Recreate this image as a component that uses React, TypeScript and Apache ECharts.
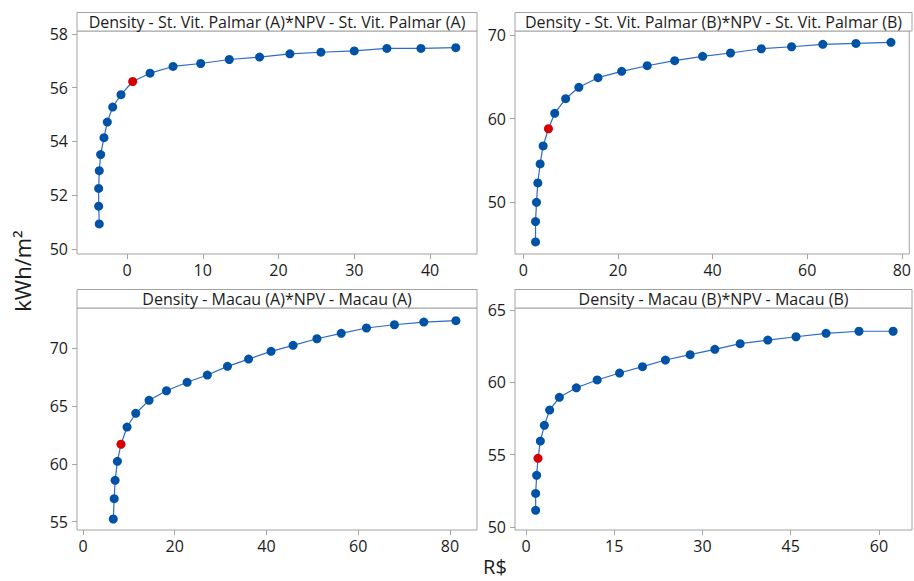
import React, { useEffect, useRef } from "react";
import * as echarts from "echarts";

// ---- Data ----
const panelTitles = [
  "Density - St. Vit. Palmar (A)*NPV - St. Vit. Palmar (A)",
  "Density - St. Vit. Palmar (B)*NPV - St. Vit. Palmar (B)",
  "Density - Macau (A)*NPV - Macau (A)",
  "Density - Macau (B)*NPV - Macau (B)",
];

const palmarA_npv = [-3.66, -3.74, -3.74, -3.66, -3.48, -3.04, -2.6, -1.89, -0.79, 0.75, 3.04, 6.08, 9.73, 13.5, 17.5, 21.5, 25.6, 30.0, 34.3, 38.8, 43.4];
const palmarA_density = [50.93, 51.59, 52.25, 52.91, 53.51, 54.14, 54.72, 55.28, 55.74, 56.23, 56.54, 56.79, 56.9, 57.05, 57.14, 57.26, 57.32, 57.37, 57.46, 57.46, 57.49];

const palmarB_npv = [2.6, 2.6, 2.8, 3.08, 3.57, 4.2, 5.33, 6.65, 8.96, 11.75, 15.8, 20.8, 26.2, 32.0, 37.9, 43.8, 50.3, 56.7, 63.3, 70.3, 77.7];
const palmarB_density = [45.27, 47.7, 50.0, 52.32, 54.59, 56.74, 58.8, 60.64, 62.39, 63.75, 64.9, 65.66, 66.33, 66.93, 67.45, 67.85, 68.36, 68.6, 68.89, 69.0, 69.13];

const macauA_npv = [6.6, 6.8, 7.0, 7.5, 8.28, 9.6, 11.5, 14.4, 18.2, 22.7, 27.1, 31.5, 36.1, 41.0, 45.8, 51.0, 56.3, 61.8, 67.9, 74.3, 81.3];
const macauA_density = [55.23, 56.99, 58.58, 60.22, 61.7, 63.19, 64.38, 65.5, 66.33, 67.06, 67.69, 68.44, 69.07, 69.74, 70.26, 70.83, 71.3, 71.76, 72.04, 72.27, 72.39];

const macauB_npv = [1.64, 1.64, 1.81, 2.04, 2.44, 3.12, 4.02, 5.67, 8.56, 12.1, 15.9, 19.8, 23.7, 27.9, 32.1, 36.4, 41.1, 45.9, 51.0, 56.6, 62.4];
const macauB_density = [51.14, 52.31, 53.56, 54.74, 55.93, 57.02, 58.08, 58.96, 59.62, 60.16, 60.64, 61.08, 61.54, 61.91, 62.28, 62.67, 62.92, 63.15, 63.39, 63.53, 63.53];

const highlightIndex = [9, 6, 4, 3];

const xTickLabels = [
  [0, 10, 20, 30, 40],
  [0, 20, 40, 60, 80],
  [0, 20, 40, 60, 80],
  [0, 15, 30, 45, 60],
];
const yTickLabels = [
  [50, 52, 54, 56, 58],
  [50, 60, 70],
  [55, 60, 65, 70],
  [50, 55, 60, 65],
];
const xRanges = [
  [-6.6, 46.2],
  [-1.74, 81.57],
  [-1.31, 85.9],
  [-1.87, 65.61],
];
const yRanges = [
  [49.81, 58.11],
  [43.83, 70.48],
  [54.28, 73.49],
  [49.78, 65.14],
];

const xSeries = [palmarA_npv, palmarB_npv, macauA_npv, macauB_npv];
const ySeries = [palmarA_density, palmarB_density, macauA_density, macauB_density];

// ---- Layout / style ----
const FONT = "'Open Sans', 'Noto Sans', sans-serif";
const TEXT = "#1c1c1c";
const FRAME = "#a3a3a3";
const LINE = "#2c6acb";
const DOT = "#0052a6";
const RED = "#d60000";

const gridLeft = [77, 515, 77, 515];
const gridTop = [31, 31, 308, 308];
const gridW = [400, 397, 400, 397];
const gridH = [223, 223, 222, 222];
const stripH = 18.5;

export default function App() {
  const ref = useRef<HTMLDivElement>(null);

  useEffect(() => {
    document.body.style.margin = "0";
    if (!ref.current) return;
    const chart = echarts.init(ref.current, undefined, { renderer: "svg" });

    const grids = gridLeft.map((l, i) => ({
      left: l,
      top: gridTop[i],
      width: gridW[i],
      height: gridH[i],
      show: true,
      borderColor: FRAME,
      borderWidth: 1,
      backgroundColor: "#fff",
    }));

    const xAxes = xRanges.map((r, i) => ({
      type: "value",
      gridIndex: i,
      min: r[0],
      max: r[1],
      axisLine: { show: false, onZero: false },
      splitLine: { show: false },
      axisTick: {
        show: true,
        length: 5,
        lineStyle: { color: FRAME },
        customValues: xTickLabels[i],
      },
      axisLabel: {
        color: TEXT,
        fontSize: 16,
        fontFamily: FONT,
        margin: 8,
        customValues: xTickLabels[i],
      },
    }));

    const yAxes = yRanges.map((r, i) => ({
      type: "value",
      gridIndex: i,
      min: r[0],
      max: r[1],
      axisLine: { show: false, onZero: false },
      splitLine: { show: false },
      axisTick: {
        show: true,
        length: 5,
        lineStyle: { color: FRAME },
        customValues: yTickLabels[i],
      },
      axisLabel: {
        color: TEXT,
        fontSize: 16,
        fontFamily: FONT,
        margin: 9,
        customValues: yTickLabels[i],
      },
    }));

    const series = xSeries.map((xs, i) => ({
      type: "line",
      xAxisIndex: i,
      yAxisIndex: i,
      symbol: "circle",
      symbolSize: 9,
      lineStyle: { color: LINE, width: 1.2 },
      itemStyle: { color: DOT },
      data: xs.map((x, j) =>
        j === highlightIndex[i]
          ? { value: [x, ySeries[i][j]], itemStyle: { color: RED } }
          : { value: [x, ySeries[i][j]] }
      ),
      z: 3,
    }));

    const strips: any[] = [];
    gridLeft.forEach((l, i) => {
      strips.push({
        type: "rect",
        shape: { x: l, y: gridTop[i] - stripH, width: gridW[i], height: stripH },
        style: { fill: "#fff", stroke: FRAME, lineWidth: 1 },
        z: 10,
      });
      strips.push({
        type: "text",
        x: l + gridW[i] / 2,
        y: gridTop[i] - stripH / 2 + 0.5,
        style: {
          text: panelTitles[i],
          fill: TEXT,
          font: `16px ${FONT}`,
          align: "center",
          verticalAlign: "middle",
        },
        z: 11,
      });
    });
    strips.push({
      type: "text",
      x: 22,
      y: 271,
      rotation: Math.PI / 2,
      style: {
        text: "kWh/m²",
        fill: TEXT,
        font: `22px ${FONT}`,
        align: "center",
        verticalAlign: "middle",
      },
    });
    strips.push({
      type: "text",
      x: 495,
      y: 566,
      style: {
        text: "R$",
        fill: TEXT,
        font: `20px ${FONT}`,
        align: "center",
        verticalAlign: "middle",
      },
    });

    chart.setOption({
      animation: false,
      backgroundColor: "#fff",
      grid: grids,
      xAxis: xAxes,
      yAxis: yAxes,
      series,
      graphic: strips,
    });

    return () => chart.dispose();
  }, []);

  return <div ref={ref} style={{ width: 914, height: 581 }} />;
}
